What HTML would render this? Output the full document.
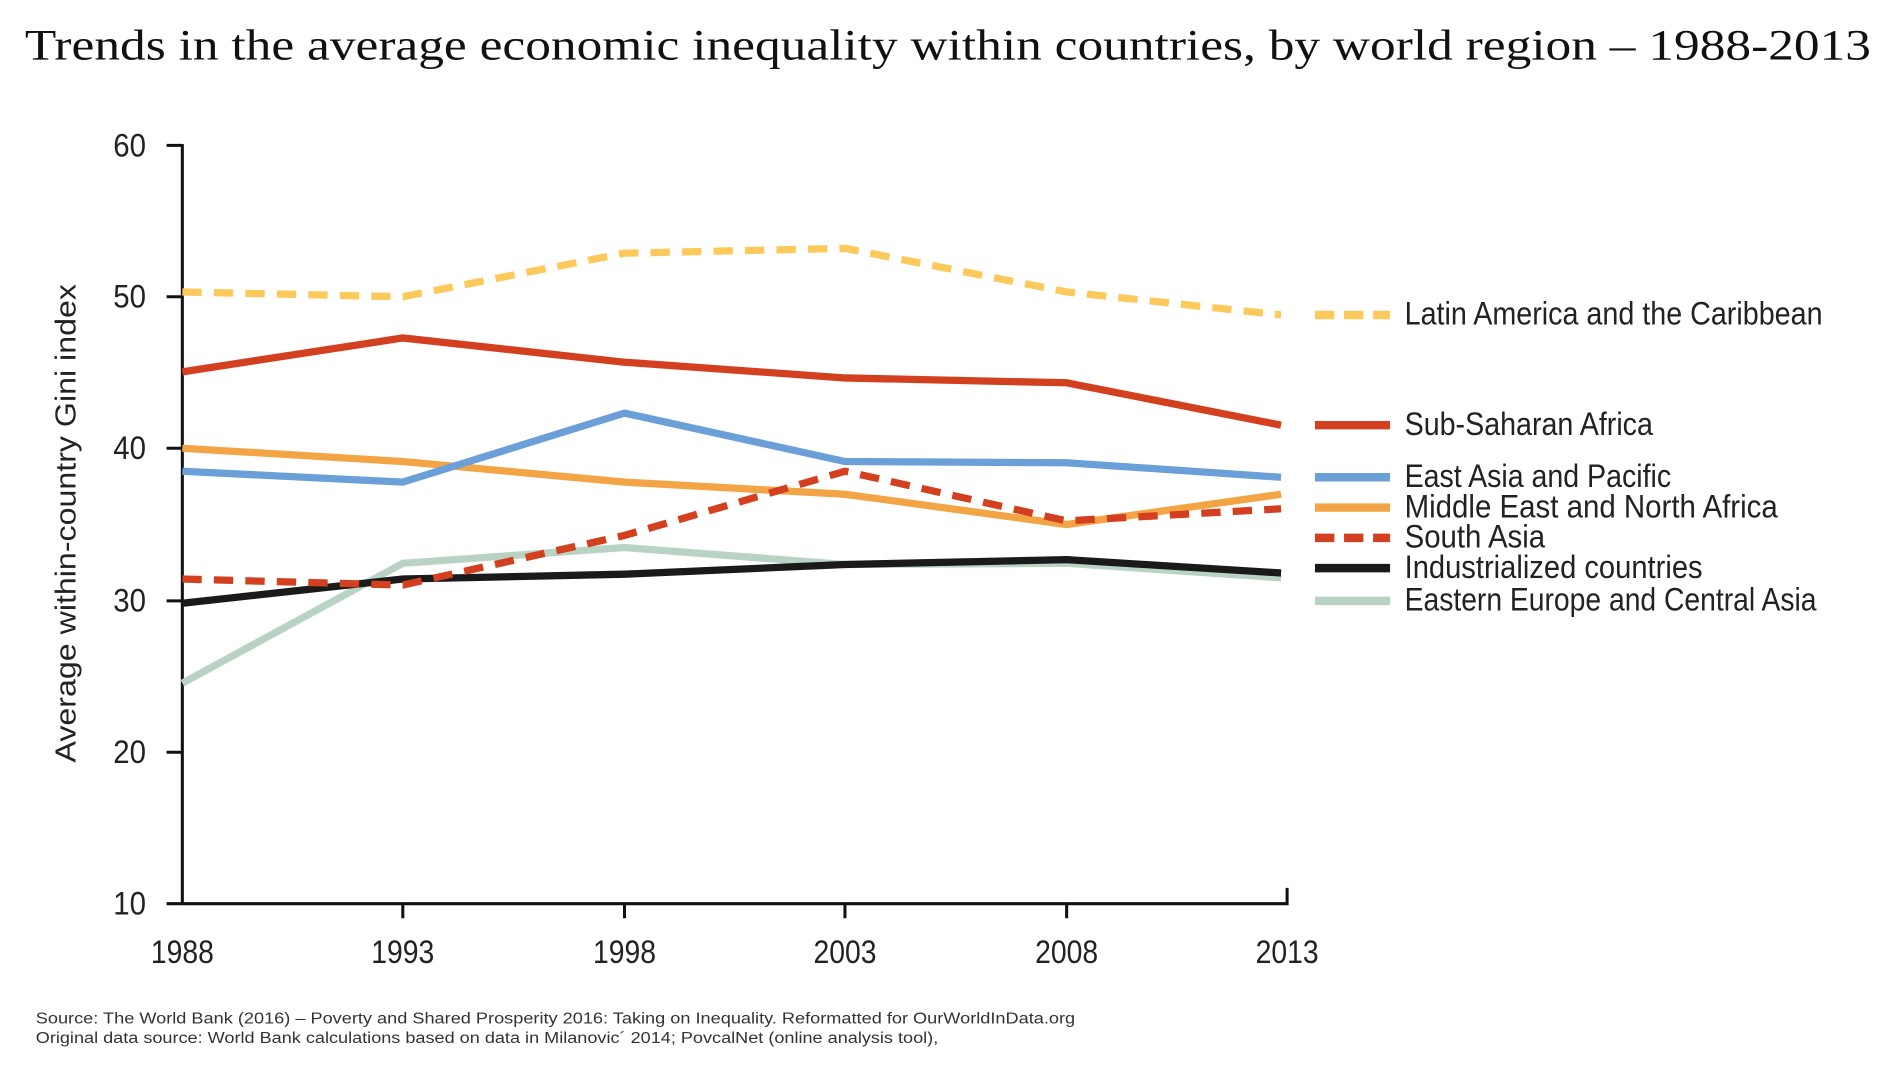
<!DOCTYPE html>
<html><head><meta charset="utf-8"><style>
html,body{margin:0;padding:0;background:#fff;}
svg{display:block;}
.n{font-family:"Liberation Sans Narrow","Liberation Sans",sans-serif;fill:#222;}
</style></head><body>
<svg width="1891" height="1066" viewBox="0 0 1560 880" xmlns="http://www.w3.org/2000/svg">
<text x="20" y="49" font-family="Liberation Serif,serif" font-size="36" fill="#111" textLength="1524" lengthAdjust="spacingAndGlyphs">Trends in the average economic inequality within countries, by world region – 1988-2013</text>
<g stroke="#111" stroke-width="2.5" fill="none">
<path d="M150 119V746H1062V733"/>
<path d="M137 120H150M137 245H150M137 370H150M137 496H150M137 621H150M137 746H150"/>
<path d="M332 746V758M515 746V758M697 746V758M880 746V758"/>
</g>
<g class="n" font-size="27" text-anchor="end">
<text x="120" y="129" textLength="27" lengthAdjust="spacingAndGlyphs">60</text>
<text x="120" y="254" textLength="27" lengthAdjust="spacingAndGlyphs">50</text>
<text x="120" y="379" textLength="27" lengthAdjust="spacingAndGlyphs">40</text>
<text x="120" y="505" textLength="27" lengthAdjust="spacingAndGlyphs">30</text>
<text x="120" y="630" textLength="27" lengthAdjust="spacingAndGlyphs">20</text>
<text x="120" y="755" textLength="27" lengthAdjust="spacingAndGlyphs">10</text>
</g>
<g class="n" font-size="27">
<text x="124" y="795" textLength="52" lengthAdjust="spacingAndGlyphs">1988</text>
<text x="306" y="795" textLength="52" lengthAdjust="spacingAndGlyphs">1993</text>
<text x="489" y="795" textLength="52" lengthAdjust="spacingAndGlyphs">1998</text>
<text x="671" y="795" textLength="52" lengthAdjust="spacingAndGlyphs">2003</text>
<text x="854" y="795" textLength="52" lengthAdjust="spacingAndGlyphs">2008</text>
<text x="1036" y="795" textLength="52" lengthAdjust="spacingAndGlyphs">2013</text>
</g>
<text transform="translate(62,432) rotate(-90)" font-family="Liberation Sans,sans-serif" font-size="24" fill="#222" text-anchor="middle" textLength="395" lengthAdjust="spacingAndGlyphs">Average within-country Gini index</text>
<g fill="none" stroke-width="6">
<polyline stroke="#b8d3c4" points="150,564 332,465 515,452 697,466 880,465 1057,477"/>
<polyline stroke="#1a1a1a" points="150,498 332,478 515,474 697,466 880,462 1057,473"/>
<polyline stroke="#f3a445" points="150,370 332,381 515,398 697,408 880,433 1057,408"/>
<polyline stroke="#6b9fd8" points="150,389 332,398 515,341 697,381 880,382 1057,394"/>
<polyline stroke="#d3401f" points="150,307 332,279 515,299 697,312 880,316 1057,351"/>
<polyline stroke="#d3401f" stroke-dasharray="16,10" points="150,478 332,483 515,442 697,389 880,430 1057,420"/>
<polyline stroke="#fcc95a" stroke-dasharray="16,10" points="150,241 332,245 515,209 697,205 880,241 1057,260"/>
</g>
<g stroke-width="7">
<line x1="1085" y1="260" x2="1147" y2="260" stroke="#fcc95a" stroke-dasharray="16,8"/>
<line x1="1085" y1="351" x2="1147" y2="351" stroke="#d3401f"/>
<line x1="1085" y1="394" x2="1147" y2="394" stroke="#6b9fd8"/>
<line x1="1085" y1="419" x2="1147" y2="419" stroke="#f3a445"/>
<line x1="1085" y1="444" x2="1147" y2="444" stroke="#d3401f" stroke-dasharray="16,8"/>
<line x1="1085" y1="469" x2="1147" y2="469" stroke="#1a1a1a"/>
<line x1="1085" y1="496" x2="1147" y2="496" stroke="#b8d3c4"/>
</g>
<g class="n" font-size="27">
<text x="1159" y="268" textLength="345" lengthAdjust="spacingAndGlyphs">Latin America and the Caribbean</text>
<text x="1159" y="359" textLength="205" lengthAdjust="spacingAndGlyphs">Sub-Saharan Africa</text>
<text x="1159" y="402" textLength="220" lengthAdjust="spacingAndGlyphs">East Asia and Pacific</text>
<text x="1159" y="427" textLength="308" lengthAdjust="spacingAndGlyphs">Middle East and North Africa</text>
<text x="1159" y="452" textLength="116" lengthAdjust="spacingAndGlyphs">South Asia</text>
<text x="1159" y="477" textLength="246" lengthAdjust="spacingAndGlyphs">Industrialized countries</text>
<text x="1159" y="504" textLength="340" lengthAdjust="spacingAndGlyphs">Eastern Europe and Central Asia</text>
</g>
<g font-family="Liberation Sans,sans-serif" font-size="13" fill="#333">
<text x="29" y="845" textLength="858" lengthAdjust="spacingAndGlyphs">Source: The World Bank (2016) – Poverty and Shared Prosperity 2016: Taking on Inequality. Reformatted for OurWorldInData.org</text>
<text x="29" y="861" textLength="745" lengthAdjust="spacingAndGlyphs">Original data source: World Bank calculations based on data in Milanovic´ 2014; PovcalNet (online analysis tool),</text>
</g>
</svg>
</body></html>
